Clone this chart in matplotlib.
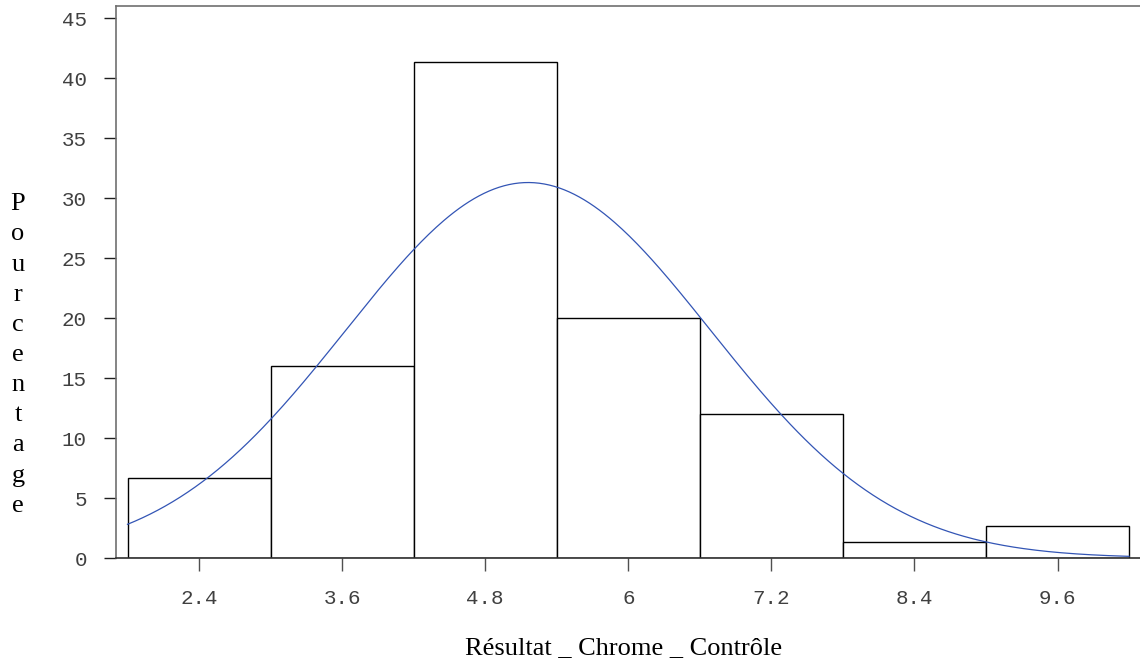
import numpy as np
import matplotlib
matplotlib.use("Agg")
import matplotlib.pyplot as plt

# Data
bin_centers = [2.4, 3.6, 4.8, 6.0, 7.2, 8.4, 9.6]
percentages = [6.67, 16.0, 41.33, 20.0, 12.0, 1.33, 2.67]
bin_width = 1.2
fit_mean = 5.16
fit_sd = 1.53
x_tick_values = [2.4, 3.6, 4.8, 6.0, 7.2, 8.4, 9.6]
x_tick_labels = ["2.4", "3.6", "4.8", "6", "7.2", "8.4", "9.6"]
y_tick_values = [0, 5, 10, 15, 20, 25, 30, 35, 40, 45]
x_label = "Résultat _ Chrome _ Contrôle"
y_label = "Pourcentage"

W, H = 1140, 662
fig = plt.figure(figsize=(W / 100, H / 100), dpi=100)
ax = fig.add_axes([116 / W, 104 / H, 1024 / W, 552 / H])

ax.bar(bin_centers, percentages, width=bin_width, facecolor="white",
       edgecolor="black", linewidth=1.0, zorder=2)

lo = bin_centers[0] - bin_width / 2
hi = bin_centers[-1] + bin_width / 2
xs = np.linspace(lo, hi, 400)
pdf = np.exp(-0.5 * ((xs - fit_mean) / fit_sd) ** 2) / (fit_sd * np.sqrt(2 * np.pi))
ax.plot(xs, 100 * bin_width * pdf, color="#3355b5", linewidth=0.9, zorder=3)

ax.set_xlim(lo - 11.5 / 119.2, lo + (1140 - 127.8) / 119.2)
ax.set_ylim(0, 46)

ax.set_xticks(x_tick_values)
ax.set_xticklabels(x_tick_labels)
ax.set_yticks(y_tick_values)

mono = "Liberation Mono"
for lab in ax.get_xticklabels() + ax.get_yticklabels():
    lab.set_family(mono)
    lab.set_fontsize(15)
    lab.set_color("#404040")

ax.tick_params(axis="y", direction="out", length=9, width=1.0, color="#202020", pad=12)
ax.tick_params(axis="x", direction="out", length=9, width=1.0, color="#505050", pad=13)

for s in ["left", "top", "bottom"]:
    ax.spines[s].set_color("#707070")
    ax.spines[s].set_linewidth(1.2)
ax.spines["right"].set_visible(False)
ax.spines["bottom"].set_color("#303030")

ax.set_xlabel(x_label, family="Liberation Serif", fontsize=19, color="black", va="baseline")
ax.xaxis.set_label_coords((623.5 - 116) / 1024, (558 - 654) / 552)

ax.set_ylabel("\n".join(y_label), family="Liberation Serif", fontsize=19, rotation=0,
              va="center", ha="center", multialignment="center", linespacing=1.48)
ax.yaxis.set_label_coords((18 - 116) / 1024, (558 - 355) / 552)

fig.savefig("out.png", dpi=100)
